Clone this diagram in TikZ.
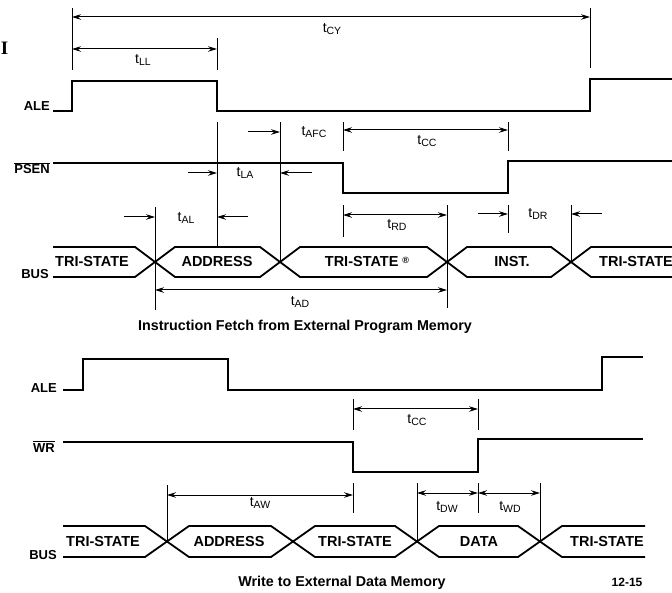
\documentclass[tikz,border=0pt]{standalone}
\usepackage{fontspec}
\setmainfont{Liberation Sans}
\newfontfamily\serifbold{Liberation Serif}
\usetikzlibrary{arrows.meta}

\newcommand{\tsub}[1]{t\raisebox{-1.5pt}{\fontsize{10.5}{10.5}\selectfont #1}}

\begin{document}
\begin{tikzpicture}[x=1pt, y=-1pt,
  wave/.style={line width=1.8pt, line join=miter},
  bar/.style={line width=1pt},
  toarrow/.style={line width=1pt, -{Stealth[length=9pt,width=5.5pt]}},
  botharrow/.style={line width=1pt, {Stealth[length=9pt,width=5.5pt]}-{Stealth[length=9pt,width=5.5pt]}},
  siglabel/.style={font=\fontsize{13}{13}\selectfont\bfseries, anchor=base east, inner sep=0pt},
  buslabel/.style={font=\fontsize{14.5}{14.5}\selectfont\bfseries, inner sep=0pt},
  tlabel/.style={font=\fontsize{14}{14}\selectfont, inner sep=0pt},
  caption/.style={font=\fontsize{14.3}{14.3}\selectfont\bfseries, inner sep=0pt}]
\useasboundingbox (0,0) rectangle (672,593);

\node[font=\fontsize{19}{19}\selectfont\serifbold\bfseries, inner sep=0pt] (mark) at (4.5,48.5) {I};

% instruction fetch from external program memory
\node[siglabel] (ale1) at (50,111) {ALE};
\node[siglabel] (psen) at (50,174) {$\overline{\mbox{PSEN}}$};
\node[siglabel] (bus1) at (49,279) {BUS};

\draw[wave] (ale1.base east) ++(3,0) -- (72,111) -- (72,81) -- (217,81) -- (217,111) -- (590,111) -- (590,79) -- (672,79);
\draw[wave] (53,163) -- (343,163) -- (343,193) -- (508,193) -- (508,161) -- (672,161);
\draw[wave] (53,247) -- (135,247) -- (175,277) -- (260,277) -- (300,247) -- (427,247) -- (467,277) -- (551,277) -- (591,247) -- (672,247);
\draw[wave] (53,277) -- (135,277) -- (175,247) -- (260,247) -- (300,277) -- (427,277) -- (467,247) -- (551,247) -- (591,277) -- (672,277);

\node[buslabel] (tri1) at (92,262) {TRI-STATE};
\node[buslabel] (addr1) at (217,262) {ADDRESS};
\node[buslabel] (tri2) at (367,262) {TRI-STATE \raisebox{3pt}{\fontsize{9}{9}\selectfont ®}};
\node[buslabel] (inst) at (512,262) {INST.};
\node[buslabel] (tri3) at (636,262) {TRI-STATE};

% timing bars
\draw[bar] (72,8) -- (72,70);
\draw[bar] (590,8) -- (590,68);
\draw[bar] (217,38) -- (217,70);
\draw[bar] (217,122) -- (217,247);
\draw[bar] (280,122) -- (280,262);
\draw[bar] (343,122) -- (343,151);
\draw[bar] (508,122) -- (508,151);
\draw[bar] (155,207) -- (155,310);
\draw[bar] (343,205) -- (343,237);
\draw[bar] (447,205) -- (447,308);
\draw[bar] (508,205) -- (508,233);
\draw[bar] (571,205) -- (571,262);

\coordinate (cy1) at (72,17);   \coordinate (cy2) at (590,17);
\coordinate (ll1) at (72,49);   \coordinate (ll2) at (217,49);
\coordinate (afc0) at (248,132); \coordinate (afc1) at (280,132);
\coordinate (cc1) at (343,130); \coordinate (cc2) at (508,130);
\coordinate (la0) at (188,173); \coordinate (la1) at (217,173);
\coordinate (la3) at (312,173); \coordinate (la2) at (280,173);
\coordinate (al0) at (124,217); \coordinate (al1) at (155,217);
\coordinate (al3) at (248,217); \coordinate (al2) at (217,217);
\coordinate (rd1) at (343,215); \coordinate (rd2) at (447,215);
\coordinate (dr0) at (478,214); \coordinate (dr1) at (508,214);
\coordinate (dr3) at (602,214); \coordinate (dr2) at (571,214);
\coordinate (ad1) at (155,290); \coordinate (ad2) at (447,290);

\draw[botharrow] (cy1) -- (cy2);
\draw[botharrow] (ll1) -- (ll2);
\draw[toarrow] (afc0) -- (afc1);
\draw[botharrow] (cc1) -- (cc2);
\draw[toarrow] (la0) -- (la1);
\draw[toarrow] (la3) -- (la2);
\draw[toarrow] (al0) -- (al1);
\draw[toarrow] (al3) -- (al2);
\draw[botharrow] (rd1) -- (rd2);
\draw[toarrow] (dr0) -- (dr1);
\draw[toarrow] (dr3) -- (dr2);
\draw[botharrow] (ad1) -- (ad2);

\node[tlabel] (tcy) at (332,29) {\tsub{CY}};
\node[tlabel] (tll) at (143,60) {\tsub{LL}};
\node[tlabel] (tafc) at (314,132) {\tsub{AFC}};
\node[tlabel] (tcc1) at (427,141) {\tsub{CC}};
\node[tlabel] (tla) at (245,173) {\tsub{LA}};
\node[tlabel] (tal) at (186,218) {\tsub{AL}};
\node[tlabel] (trd) at (397,225) {\tsub{RD}};
\node[tlabel] (tdr) at (538,214) {\tsub{DR}};
\node[tlabel] (tad) at (300,302) {\tsub{AD}};

\node[caption] (cap1) at (305,327) {Instruction Fetch from External Program Memory};

% write to external data memory
\node[siglabel] (ale2) at (57,392) {ALE};
\node[siglabel] (wr) at (55,452) {$\overline{\mbox{WR}}$};
\node[siglabel] (bus2) at (57,559) {BUS};

\draw[wave] (63,390) -- (83,390) -- (83,359) -- (228,359) -- (228,390) -- (602,390) -- (602,357) -- (643,357);
\draw[wave] (63,442) -- (353,442) -- (353,472) -- (478,472) -- (478,439) -- (643,439);
\draw[wave] (63,526) -- (145,526) -- (189,557) -- (271,557) -- (315,526) -- (395,526) -- (439,557) -- (518,557) -- (562,526) -- (645,526);
\draw[wave] (63,557) -- (145,557) -- (189,526) -- (271,526) -- (315,557) -- (395,557) -- (439,526) -- (518,526) -- (562,557) -- (645,557);

\node[buslabel] (tri4) at (103,542) {TRI-STATE};
\node[buslabel] (addr2) at (229,542) {ADDRESS};
\node[buslabel] (tri5) at (355,542) {TRI-STATE};
\node[buslabel] (data) at (479,542) {DATA};
\node[buslabel] (tri6) at (607,542) {TRI-STATE};

\draw[bar] (353,399) -- (353,430);
\draw[bar] (478,399) -- (478,430);
\draw[bar] (167,485) -- (167,542);
\draw[bar] (353,483) -- (353,513);
\draw[bar] (417,483) -- (417,542);
\draw[bar] (478,483) -- (478,513);
\draw[bar] (540,483) -- (540,542);

\coordinate (cc3) at (353,409); \coordinate (cc4) at (478,409);
\coordinate (aw1) at (167,495); \coordinate (aw2) at (353,495);
\coordinate (dw1) at (417,493); \coordinate (dw2) at (478,493);
\coordinate (wd2) at (540,493);

\draw[botharrow] (cc3) -- (cc4);
\draw[botharrow] (aw1) -- (aw2);
\draw[botharrow] (dw1) -- (dw2);
\draw[botharrow] (dw2) -- (wd2);

\node[tlabel] (tcc2) at (417,420) {\tsub{CC}};
\node[tlabel] (taw) at (260,503) {\tsub{AW}};
\node[tlabel] (tdw) at (447,507) {\tsub{DW}};
\node[tlabel] (twd) at (510,507) {\tsub{WD}};

\node[caption] (cap2) at (342,583) {Write to External Data Memory};
\node[font=\fontsize{12}{12}\selectfont\bfseries, inner sep=0pt] (page) at (627,582) {12-15};
\end{tikzpicture}
\end{document}
